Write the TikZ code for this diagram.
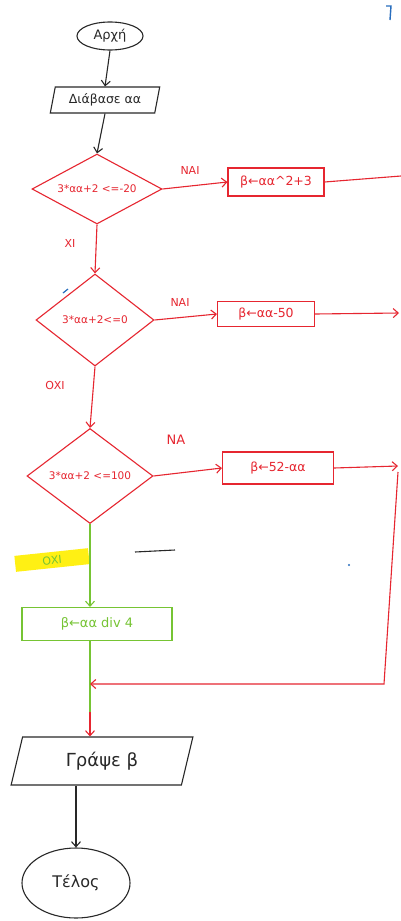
\documentclass[tikz,border=0pt]{standalone}
\usepackage{fontspec}
\setmainfont{DejaVu Sans}
\usetikzlibrary{shapes.geometric,arrows.meta}
\definecolor{hred}{RGB}{230,38,48}
\definecolor{hgreen}{RGB}{118,196,52}
\definecolor{hyellow}{RGB}{255,240,20}
\definecolor{hblue}{RGB}{40,110,190}
\definecolor{hblack}{RGB}{40,40,40}
\begin{document}
\begin{tikzpicture}[x=1pt,y=-1pt, line width=1.1pt,
  >={Straight Barb[length=5pt,width=9pt]},
  term/.style={ellipse, draw=hblack, text=hblack, inner sep=0pt},
  io/.style={trapezium, trapezium left angle=74, trapezium right angle=106, trapezium stretches=true, draw=hblack, text=hblack, inner sep=0pt},
  cond/.style={diamond, draw=hred, text=hred, inner sep=0pt, aspect=1.6, font=\fontsize{10.5}{11}\selectfont},
  proc/.style={rectangle, draw=hred, text=hred, inner sep=2pt, font=\fontsize{12.5}{13}\selectfont},
  lbl/.style={font=\fontsize{11}{12}\selectfont, text=hred},
  redln/.style={draw=hred},
  greenln/.style={draw=hgreen},
  blackln/.style={draw=hblack}]
\fill[white] (0,0) rectangle (401,921);
\useasboundingbox (0,0) rectangle (401,921);

% start and input
\node[term, minimum width=66, minimum height=28, font=\fontsize{13}{14}\selectfont] (start) at (110,36) {Αρχή};
\node[io, minimum width=110, minimum height=26, font=\fontsize{12.5}{13}\selectfont] (in) at (105,100) {Διάβασε αα};
\draw[blackln,->] (start.south) -- (in.north);

% decision 1
\node[cond, minimum width=130, minimum height=70] (d1) at (97,189) {3*αα+2 <=-20};
\draw[blackln,->] (in.south) -- (d1.north);
\node[proc, minimum width=96, minimum height=28] (b1) at (276,182) {β←αα\textasciicircum 2+3};
\draw[redln,->] (d1.east) -- (b1.west);
\node[lbl] (l1) at (190,170) {ΝΑΙ};
\coordinate (r1) at (401,176);
\draw[redln] (b1.east) -- (r1);
\node[lbl] (l2) at (70,243) {ΧΙ};

% decision 2
\node[cond, minimum width=118, minimum height=92] (d2) at (95,320) {3*αα+2<=0};
\draw[redln,->] (d1.south) -- (d2.north);
\node[proc, minimum width=97, minimum height=25] (b2) at (266,314) {β←αα-50};
\draw[redln,->] (d2.east) -- (b2.west);
\node[lbl] (l3) at (180,302) {ΝΑΙ};
\coordinate (r2) at (399,313);
\draw[redln,->] (b2.east) -- (r2);
\node[lbl] (l4) at (55,385) {ΟΧΙ};

% decision 3
\node[cond, minimum width=126, minimum height=95] (d3) at (90,476) {3*αα+2 <=100};
\draw[redln,->] (d2.south) -- (d3.north);
\node[proc, minimum width=111, minimum height=32] (b3) at (278,468) {β←52-αα};
\draw[redln,->] (d3.east) -- (b3.west);
\node[lbl, font=\fontsize{13}{14}\selectfont] (l5) at (176,440) {ΝΑ};
\coordinate (r3) at (398,466);
\coordinate (r4) at (384,684);
\draw[redln,->] (b3.east) -- (r3);

% no branch (green)
\node[fill=hyellow, rotate=6, text=hgreen, minimum width=74, minimum height=16, inner sep=0pt, font=\fontsize{11}{12}\selectfont] (l6) at (52,560) {ΟΧΙ};
\draw[blackln] (135,552) -- (175,550);
\node[proc, draw=hgreen, text=hgreen, minimum width=150, minimum height=33, font=\fontsize{13}{14}\selectfont] (b4) at (97,624) {β←αα div 4};
\draw[greenln,->] (d3.south) -- (d3.south |- b4.north);
\coordinate (jy) at (0,712);
\draw[greenln] (b4.south -| d3.south) -- (d3.south |- jy);

% return path
\draw[redln,->] (r3) ++(0,6) -- (r4) -- (r4 -| d3.south);

% output and end
\node[io, minimum width=182, minimum height=48, font=\fontsize{18}{19}\selectfont] (out) at (102,761) {Γράψε β};
\draw[redln,->] (d3.south |- jy) -- (out.north -| d3.south);
\node[term, minimum width=108, minimum height=70, font=\fontsize{16}{17}\selectfont] (end) at (76,883) {Τέλος};
\draw[blackln,->] (out.south -| end.north) -- (end.north);

% stray blue marks
\draw[hblue, line width=1.4pt] (386,6) -- (391,6) -- (390,20);
\draw[hblue, line width=1.2pt] (63,293) -- (68,289);
\fill[hblue] (349,565) circle (1.2);
\end{tikzpicture}
\end{document}
